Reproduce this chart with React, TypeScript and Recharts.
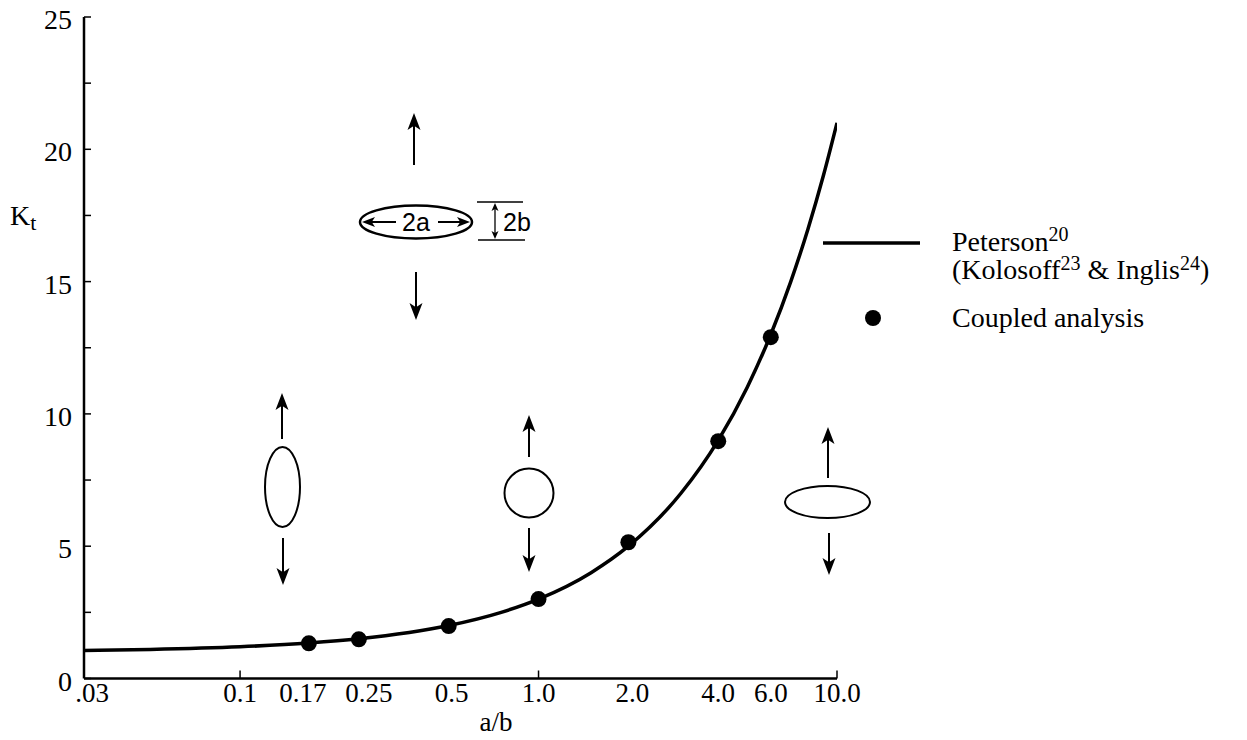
import React from 'react';
import { ComposedChart, Line, Scatter, XAxis, YAxis } from 'recharts';

// Peterson (Kolosoff & Inglis) curve
const curveX = [0.03, 0.05, 0.1, 0.17, 0.25, 0.5, 0.75, 1.0, 1.5, 2.0, 3.0, 4.0, 5.0, 6.0, 7.0, 8.0, 9.0, 10.0];
const curveKt = [1.06, 1.1, 1.2, 1.34, 1.5, 2.0, 2.5, 3.0, 4.0, 5.0, 7.0, 9.0, 11.0, 13.0, 15.0, 17.0, 19.0, 21.0];

// Coupled analysis points
const pointX = [0.17, 0.25, 0.5, 1.0, 2.0, 4.0, 6.0];
const pointKt = [1.33, 1.48, 1.98, 3.0, 5.15, 8.97, 12.9];

// Axis ticks
const xTicks = [0.03, 0.1, 0.17, 0.25, 0.5, 1.0, 2.0, 4.0, 6.0, 10.0];
const xTickLabels = ['.03', '0.1', '0.17', '0.25', '0.5', '1.0', '2.0', '4.0', '6.0', '10.0'];
const xTickMarks = [0.1, 1.0, 10.0];
const yTicks = [0, 2.5, 5, 7.5, 10, 12.5, 15, 17.5, 20, 22.5, 25];
const yLabelled = [0, 5, 10, 15, 20, 25];

const curveData = curveX.map((x, i) => ({ x, kt: curveKt[i] }));
const pointData = pointX.map((x, i) => ({ x, kt: pointKt[i] }));

const SERIF = '"Liberation Serif", "Times New Roman", serif';
const SANS = '"Liberation Sans", Arial, sans-serif';

const XTick = (props: any) => {
  const { x, y, payload } = props;
  const i = xTicks.indexOf(payload.value);
  const nudge: Record<string, number> = { '.03': 8, '0.17': -6, '0.25': 10, '0.5': 3, '2.0': 4 };
  const label = xTickLabels[i] ?? '';
  return (
    <g>
      {xTickMarks.includes(payload.value) && (
        <line x1={x} x2={x} y1={y} y2={y - 8} stroke="#000" strokeWidth={1.5} />
      )}
      <text x={x + (nudge[label] || 0)} y={y + 23} textAnchor="middle" fontFamily={SERIF} fontSize={27} fill="#000">
        {label}
      </text>
    </g>
  );
};

const YTick = (props: any) => {
  const { x, y, payload } = props;
  return (
    <g>
      <line x1={x} x2={x + 7} y1={y} y2={y} stroke="#000" strokeWidth={1.5} />
      {yLabelled.includes(payload.value) && (
        <text x={x - 12} y={y + 12} textAnchor="end" fontFamily={SERIF} fontSize={28} fill="#000">
          {payload.value}
        </text>
      )}
    </g>
  );
};

const Dot = (p: any) => <circle cx={p.cx} cy={p.cy} r={8} fill="#000" />;

const Arrow = ({ x1, y1, x2, y2, len = 17, hw = 6.5, sw = 2 }: any) => {
  const dx = x2 - x1, dy = y2 - y1;
  const d = Math.hypot(dx, dy);
  const ux = dx / d, uy = dy / d;
  const bx = x2 - ux * len, by = y2 - uy * len;
  const px = -uy * hw, py = ux * hw;
  return (
    <g>
      <line x1={x1} y1={y1} x2={x2 - ux * len * 0.6} y2={y2 - uy * len * 0.6} stroke="#000" strokeWidth={sw} />
      <polygon points={`${x2},${y2} ${bx + px},${by + py} ${x2 - ux * len * 0.75},${y2 - uy * len * 0.75} ${bx - px},${by - py}`} fill="#000" />
    </g>
  );
};

const Overlay = () => (
  <svg width={1247} height={740} style={{ position: 'absolute', left: 0, top: 0, pointerEvents: 'none' }}>
    {/* Axis titles */}
    <text x={10} y={225} fontFamily={SERIF} fontSize={28} fill="#000">
      K<tspan fontSize={22} dy={5}>t</tspan>
    </text>
    <text x={496} y={731} textAnchor="middle" fontFamily={SERIF} fontSize={27} fill="#000">a/b</text>

    {/* Top diagram: ellipse with 2a / 2b */}
    <Arrow x1={414} y1={165} x2={414} y2={113} />
    <ellipse cx={416} cy={222} rx={56} ry={16.5} fill="none" stroke="#000" strokeWidth={2.5} />
    <Arrow x1={396} y1={222} x2={362} y2={222} len={13} hw={5} />
    <Arrow x1={438} y1={222} x2={470} y2={222} len={13} hw={5} />
    <text x={416} y={231} textAnchor="middle" fontFamily={SANS} fontSize={25} fill="#000">2a</text>
    <line x1={477} y1={202} x2={523} y2={202} stroke="#000" strokeWidth={1.5} />
    <line x1={478} y1={240} x2={525} y2={240} stroke="#000" strokeWidth={1.5} />
    <Arrow x1={495} y1={221} x2={495} y2={203} len={8} hw={3.5} sw={1.3} />
    <Arrow x1={495} y1={221} x2={495} y2={239} len={8} hw={3.5} sw={1.3} />
    <text x={503} y={231} fontFamily={SANS} fontSize={25} fill="#000">2b</text>
    <Arrow x1={416} y1={272} x2={416} y2={320} />

    {/* Left: tall ellipse */}
    <Arrow x1={282} y1={439} x2={282} y2={393} />
    <ellipse cx={282.5} cy={487} rx={17.5} ry={40} fill="none" stroke="#000" strokeWidth={2} />
    <Arrow x1={283} y1={538} x2={283} y2={585} />

    {/* Centre: circle */}
    <Arrow x1={529} y1={457} x2={529} y2={415} />
    <circle cx={529} cy={493} r={24.5} fill="none" stroke="#000" strokeWidth={2} />
    <Arrow x1={529} y1={528} x2={529} y2={572} />

    {/* Right: flat ellipse */}
    <Arrow x1={828} y1={478} x2={828} y2={427} />
    <ellipse cx={827.5} cy={502} rx={42.5} ry={16} fill="none" stroke="#000" strokeWidth={2} />
    <Arrow x1={829} y1={533} x2={829} y2={575} />

    {/* Legend */}
    <line x1={823} y1={243} x2={920} y2={243} stroke="#000" strokeWidth={3.5} />
    <text x={952} y={251} fontFamily={SERIF} fontSize={28} fill="#000">
      Peterson<tspan fontSize={20} dy={-10}>20</tspan>
    </text>
    <text x={952} y={279} fontFamily={SERIF} fontSize={28} fill="#000">
      (Kolosoff<tspan fontSize={20} dy={-9}>23</tspan>
      <tspan dy={9}> &amp; Inglis</tspan>
      <tspan fontSize={20} dy={-9}>24</tspan>
      <tspan dy={9}>)</tspan>
    </text>
    <circle cx={873} cy={318} r={8} fill="#000" />
    <text x={952} y={327} fontFamily={SERIF} fontSize={28} fill="#000">Coupled analysis</text>
  </svg>
);

export default function App() {
  return (
    <div style={{ position: 'absolute', left: 0, top: 0, width: 1247, height: 740, background: '#fff' }}>
      <ComposedChart
        width={1247}
        height={740}
        margin={{ top: 17, right: 410, bottom: 31.5, left: 24 }}
      >
        <XAxis
          dataKey="x"
          type="number"
          scale="log"
          domain={[0.03, 10]}
          ticks={xTicks}
          interval={0}
          allowDataOverflow
          tickLine={false}
          tickSize={0}
          tickMargin={0}
          height={30}
          axisLine={{ stroke: '#000', strokeWidth: 2.5 }}
          tick={(p: any) => <XTick {...p} />}
        />
        <YAxis
          type="number"
          domain={[0, 25]}
          ticks={yTicks}
          interval={0}
          allowDataOverflow
          tickLine={false}
          tickSize={0}
          tickMargin={0}
          width={60}
          axisLine={{ stroke: '#000', strokeWidth: 2.5 }}
          tick={(p: any) => <YTick {...p} />}
        />
        <Line
          data={curveData}
          dataKey="kt"
          type="monotone"
          stroke="#000"
          strokeWidth={3.5}
          dot={false}
          activeDot={false}
          isAnimationActive={false}
        />
        <Scatter
          data={pointData}
          dataKey="kt"
          fill="#000"
          shape={Dot}
          isAnimationActive={false}
        />
      </ComposedChart>
      <Overlay />
    </div>
  );
}
